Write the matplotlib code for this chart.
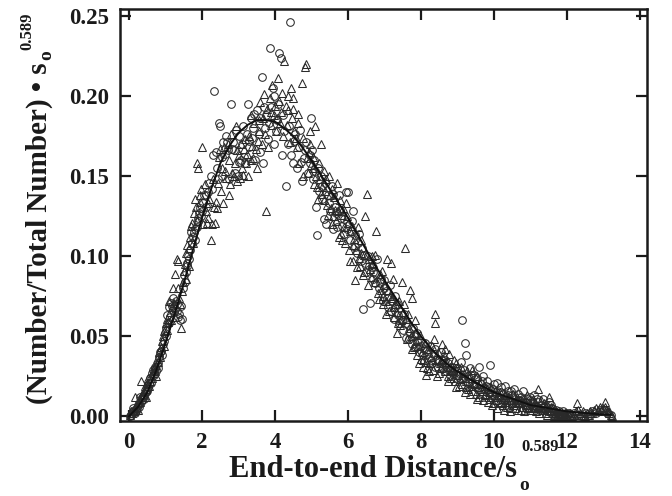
import matplotlib
matplotlib.use("Agg")
import matplotlib.pyplot as plt

# ---- data ----
circle_pts = [
    (0.02, 0.000), (0.05, 0.001), (0.08, 0.002), (0.12, 0.003), (0.15, 0.002), (0.18, 0.004),
    (0.22, 0.005), (0.25, 0.007), (0.28, 0.006), (0.32, 0.009), (0.35, 0.010), (0.38, 0.012),
    (0.42, 0.013), (0.45, 0.015), (0.48, 0.017), (0.52, 0.018), (0.55, 0.020), (0.58, 0.024),
    (0.62, 0.027), (0.65, 0.029), (0.68, 0.026), (0.72, 0.030), (0.75, 0.028), (0.78, 0.033),
    (0.82, 0.037), (0.85, 0.040), (0.88, 0.041), (0.92, 0.045), (0.95, 0.047), (0.98, 0.052),
    (1.02, 0.055), (1.05, 0.063), (1.08, 0.068), (1.12, 0.062), (1.15, 0.071), (1.18, 0.069),
    (1.22, 0.065), (1.25, 0.067), (1.28, 0.072), (1.32, 0.066), (1.35, 0.062), (1.38, 0.064),
    (1.42, 0.069), (1.45, 0.061), (1.48, 0.080), (1.52, 0.084), (1.55, 0.090), (1.58, 0.094),
    (1.62, 0.100), (1.65, 0.098), (1.68, 0.104), (1.72, 0.108), (1.75, 0.112), (1.78, 0.115),
    (1.82, 0.110), (1.85, 0.118), (1.88, 0.122), (1.92, 0.127), (1.95, 0.130), (1.98, 0.125),
    (2.02, 0.133), (2.05, 0.138), (2.10, 0.131), (2.15, 0.140), (2.20, 0.146), (2.25, 0.150),
    (2.30, 0.163), (2.34, 0.203), (2.38, 0.165), (2.42, 0.155), (2.46, 0.183), (2.50, 0.181),
    (2.54, 0.150), (2.58, 0.171), (2.62, 0.164), (2.66, 0.175), (2.70, 0.166), (2.74, 0.148),
    (2.78, 0.195), (2.82, 0.167), (2.86, 0.171), (2.90, 0.152), (2.94, 0.179), (2.98, 0.150),
    (3.02, 0.159), (3.06, 0.160), (3.10, 0.170), (3.14, 0.162), (3.18, 0.158), (3.22, 0.176),
    (3.26, 0.195), (3.30, 0.168), (3.34, 0.186), (3.38, 0.174), (3.42, 0.189), (3.46, 0.160),
    (3.50, 0.191), (3.55, 0.176), (3.60, 0.186), (3.63, 0.212), (3.68, 0.158), (3.72, 0.180),
    (3.76, 0.188), (3.80, 0.173), (3.86, 0.230), (3.90, 0.193), (3.94, 0.205), (3.98, 0.170),
    (4.02, 0.178), (4.06, 0.185), (4.12, 0.227), (4.16, 0.224), (4.20, 0.163), (4.25, 0.178),
    (4.30, 0.144), (4.35, 0.170), (4.41, 0.246), (4.45, 0.163), (4.50, 0.158), (4.55, 0.176),
    (4.60, 0.155), (4.65, 0.168), (4.70, 0.159), (4.75, 0.147), (4.80, 0.161), (4.85, 0.171),
    (4.90, 0.152), (4.95, 0.163), (5.00, 0.186),
    (5.05, 0.148), (5.10, 0.153), (5.12, 0.131), (5.15, 0.113), (5.20, 0.141), (5.25, 0.150),
    (5.30, 0.136), (5.35, 0.123), (5.40, 0.120), (5.45, 0.138), (5.50, 0.128), (5.55, 0.144),
    (5.60, 0.117), (5.65, 0.131), (5.70, 0.118), (5.75, 0.138), (5.80, 0.124), (5.85, 0.119),
    (5.90, 0.114), (5.95, 0.140), (6.00, 0.140),
    (6.05, 0.110), (6.10, 0.122), (6.15, 0.128), (6.20, 0.106), (6.25, 0.102), (6.30, 0.114),
    (6.35, 0.097), (6.41, 0.067), (6.45, 0.101), (6.50, 0.090), (6.55, 0.100), (6.61, 0.071),
    (6.65, 0.093), (6.70, 0.090), (6.75, 0.083), (6.80, 0.098), (6.85, 0.080), (6.90, 0.086),
    (6.95, 0.072), (7.00, 0.080),
    (7.05, 0.078), (7.10, 0.068), (7.15, 0.082), (7.20, 0.072), (7.25, 0.061), (7.30, 0.068),
    (7.35, 0.070), (7.40, 0.058), (7.45, 0.063), (7.50, 0.054), (7.55, 0.064), (7.60, 0.049),
    (7.65, 0.057), (7.70, 0.052), (7.75, 0.045), (7.80, 0.050), (7.85, 0.043), (7.90, 0.047),
    (7.95, 0.040), (8.00, 0.044),
    (8.05, 0.038), (8.10, 0.046), (8.15, 0.041), (8.20, 0.036), (8.25, 0.044), (8.30, 0.033),
    (8.35, 0.039), (8.40, 0.031), (8.45, 0.036), (8.50, 0.034), (8.55, 0.040), (8.60, 0.030),
    (8.65, 0.035), (8.70, 0.028), (8.75, 0.033), (8.80, 0.026), (8.85, 0.031), (8.90, 0.029),
    (8.95, 0.024), (9.00, 0.030),
    (9.05, 0.027), (9.10, 0.034), (9.14, 0.060), (9.20, 0.046), (9.25, 0.038), (9.30, 0.025),
    (9.35, 0.030), (9.40, 0.021), (9.45, 0.026), (9.50, 0.019), (9.55, 0.024), (9.60, 0.031),
    (9.65, 0.020), (9.70, 0.025), (9.75, 0.017), (9.80, 0.022), (9.85, 0.018), (9.90, 0.032),
    (9.95, 0.014), (10.00, 0.020),
    (10.05, 0.015), (10.10, 0.021), (10.15, 0.012), (10.20, 0.018), (10.25, 0.014), (10.30, 0.019),
    (10.35, 0.011), (10.40, 0.016), (10.45, 0.010), (10.50, 0.013), (10.55, 0.017), (10.60, 0.009),
    (10.65, 0.014), (10.70, 0.008), (10.75, 0.012), (10.80, 0.016), (10.85, 0.007), (10.90, 0.011),
    (10.95, 0.006), (11.00, 0.010),
    (11.05, 0.008), (11.10, 0.013), (11.15, 0.006), (11.20, 0.009), (11.25, 0.005), (11.30, 0.007),
    (11.35, 0.011), (11.40, 0.004), (11.45, 0.006), (11.50, 0.009), (11.55, 0.003), (11.60, 0.005),
    (11.65, 0.002), (11.70, 0.004), (11.75, 0.001), (11.80, 0.002), (11.85, 0.001), (11.90, 0.003),
    (11.95, 0.000), (12.00, 0.001),
    (12.05, 0.002), (12.10, 0.000), (12.15, 0.001), (12.20, 0.002), (12.30, 0.001), (12.40, 0.000),
    (12.50, 0.002), (12.60, 0.001), (12.70, 0.003), (12.80, 0.002), (12.90, 0.004), (13.00, 0.003),
    (13.10, 0.002), (13.20, 0.001),
]

# second run of circles (overlapping the first)
circle_pts_2 = [
    (0.10, 0.005), (0.20, 0.003), (0.30, 0.012), (0.40, 0.011), (0.50, 0.016), (0.60, 0.021),
    (0.70, 0.031), (0.80, 0.030), (0.90, 0.038), (1.00, 0.050), (1.10, 0.058), (1.20, 0.074),
    (1.30, 0.070), (1.40, 0.060), (1.50, 0.088), (1.60, 0.096), (1.70, 0.115), (1.80, 0.117),
    (1.90, 0.124), (2.00, 0.128),
    (2.12, 0.138), (2.28, 0.142), (2.44, 0.148), (2.56, 0.162), (2.68, 0.171), (2.88, 0.166),
    (3.00, 0.175), (3.12, 0.181), (3.28, 0.172), (3.40, 0.180), (3.58, 0.165), (3.70, 0.193),
    (3.84, 0.183), (3.96, 0.200), (4.08, 0.195), (4.22, 0.188), (4.38, 0.181), (4.52, 0.172),
    (4.68, 0.179), (4.82, 0.166), (4.96, 0.158),
    (5.02, 0.166), (5.08, 0.160), (5.18, 0.155), (5.28, 0.144), (5.38, 0.146), (5.48, 0.133),
    (5.58, 0.139), (5.68, 0.127), (5.78, 0.129), (5.88, 0.123), (5.98, 0.117), (6.08, 0.116),
    (6.18, 0.113), (6.28, 0.108), (6.38, 0.105), (6.48, 0.096), (6.58, 0.094), (6.68, 0.086),
    (6.78, 0.089), (6.88, 0.083), (6.98, 0.085), (7.08, 0.074), (7.18, 0.066), (7.28, 0.075),
    (7.38, 0.063), (7.48, 0.060), (7.58, 0.058), (7.68, 0.048), (7.78, 0.055), (7.88, 0.052),
    (7.98, 0.047),
    (8.08, 0.042), (8.18, 0.039), (8.28, 0.035), (8.38, 0.042), (8.48, 0.031), (8.58, 0.033),
    (8.68, 0.031), (8.78, 0.029), (8.88, 0.027), (8.98, 0.026), (9.08, 0.024), (9.18, 0.029),
    (9.28, 0.021), (9.38, 0.026), (9.48, 0.023), (9.58, 0.017), (9.68, 0.022), (9.78, 0.019),
    (9.88, 0.015), (9.98, 0.017), (10.08, 0.013), (10.18, 0.015), (10.28, 0.010), (10.38, 0.013),
    (10.48, 0.016), (10.58, 0.011), (10.68, 0.010), (10.78, 0.008), (10.88, 0.009), (10.98, 0.012),
    (11.08, 0.006), (11.18, 0.011), (11.28, 0.004), (11.38, 0.006), (11.48, 0.003), (11.58, 0.007),
    (11.68, 0.001), (11.78, 0.003), (11.88, 0.000), (11.98, 0.002),
]

triangle_pts = [
    (0.03, 0.001), (0.07, 0.002), (0.10, 0.004), (0.13, 0.003), (0.17, 0.012), (0.20, 0.006),
    (0.23, 0.008), (0.27, 0.011), (0.30, 0.009), (0.33, 0.022), (0.37, 0.013), (0.40, 0.016),
    (0.43, 0.019), (0.47, 0.017), (0.50, 0.021), (0.53, 0.024), (0.57, 0.022), (0.60, 0.026),
    (0.63, 0.024), (0.67, 0.030), (0.70, 0.028), (0.73, 0.032), (0.77, 0.036), (0.80, 0.034),
    (0.83, 0.040), (0.87, 0.043), (0.90, 0.047), (0.93, 0.050), (0.97, 0.053), (1.00, 0.058),
    (1.03, 0.061), (1.07, 0.059), (1.10, 0.072), (1.13, 0.065), (1.17, 0.068), (1.20, 0.080),
    (1.23, 0.071), (1.27, 0.089), (1.30, 0.098), (1.33, 0.097), (1.37, 0.074), (1.40, 0.070),
    (1.43, 0.055), (1.47, 0.084), (1.50, 0.091), (1.53, 0.095), (1.57, 0.102), (1.60, 0.107),
    (1.63, 0.105), (1.67, 0.112), (1.70, 0.119), (1.73, 0.121), (1.77, 0.127), (1.80, 0.136),
    (1.83, 0.131), (1.87, 0.158), (1.90, 0.155), (1.93, 0.138), (1.97, 0.142), (2.00, 0.168),
    (2.03, 0.120), (2.07, 0.145), (2.10, 0.128), (2.13, 0.121), (2.17, 0.133), (2.20, 0.136),
    (2.24, 0.110), (2.27, 0.120), (2.30, 0.148), (2.33, 0.131), (2.37, 0.134), (2.40, 0.130),
    (2.43, 0.146), (2.47, 0.162), (2.50, 0.167), (2.53, 0.141), (2.57, 0.133), (2.60, 0.168),
    (2.63, 0.153), (2.67, 0.149), (2.70, 0.170), (2.73, 0.138), (2.77, 0.145), (2.80, 0.176),
    (2.83, 0.152), (2.87, 0.150), (2.90, 0.158), (2.93, 0.181), (2.97, 0.147), (3.00, 0.163),
    (3.03, 0.149), (3.07, 0.170), (3.10, 0.155), (3.13, 0.151), (3.17, 0.173), (3.20, 0.158),
    (3.23, 0.164), (3.27, 0.150), (3.30, 0.175), (3.33, 0.188), (3.37, 0.169), (3.40, 0.161),
    (3.43, 0.183), (3.47, 0.167), (3.50, 0.155), (3.53, 0.172), (3.57, 0.178), (3.60, 0.196),
    (3.63, 0.170), (3.67, 0.186), (3.70, 0.201), (3.75, 0.128), (3.78, 0.192), (3.82, 0.168),
    (3.86, 0.199), (3.90, 0.182), (3.93, 0.207), (3.97, 0.188), (4.00, 0.194),
    (4.03, 0.178), (4.07, 0.211), (4.10, 0.197), (4.13, 0.183), (4.17, 0.190), (4.20, 0.202),
    (4.26, 0.222), (4.30, 0.194), (4.33, 0.182), (4.37, 0.200), (4.40, 0.171), (4.43, 0.205),
    (4.47, 0.186), (4.50, 0.192), (4.53, 0.178), (4.57, 0.174), (4.60, 0.168), (4.63, 0.183),
    (4.67, 0.158), (4.73, 0.208), (4.77, 0.150), (4.81, 0.218), (4.84, 0.220), (4.87, 0.161),
    (4.90, 0.152), (4.93, 0.165), (4.97, 0.170), (5.00, 0.157),
    (5.03, 0.162), (5.07, 0.145), (5.11, 0.181), (5.13, 0.150), (5.17, 0.136), (5.20, 0.158),
    (5.23, 0.148), (5.27, 0.170), (5.30, 0.143), (5.33, 0.153), (5.37, 0.141), (5.40, 0.148),
    (5.43, 0.132), (5.47, 0.150), (5.50, 0.138), (5.53, 0.130), (5.57, 0.142), (5.60, 0.125),
    (5.63, 0.137), (5.67, 0.122), (5.70, 0.146), (5.73, 0.128), (5.77, 0.135), (5.80, 0.114),
    (5.83, 0.126), (5.87, 0.130), (5.90, 0.118), (5.93, 0.108), (5.97, 0.125), (6.00, 0.121),
    (6.03, 0.104), (6.07, 0.116), (6.10, 0.119), (6.13, 0.097), (6.17, 0.111), (6.20, 0.085),
    (6.23, 0.104), (6.27, 0.118), (6.30, 0.099), (6.33, 0.094), (6.37, 0.110), (6.40, 0.088),
    (6.43, 0.101), (6.47, 0.125), (6.52, 0.139), (6.57, 0.098), (6.60, 0.092), (6.63, 0.087),
    (6.67, 0.100), (6.70, 0.096), (6.73, 0.084), (6.78, 0.116), (6.82, 0.077), (6.87, 0.089),
    (6.90, 0.079), (6.93, 0.091), (6.97, 0.075), (7.00, 0.082),
    (7.03, 0.072), (7.07, 0.098), (7.10, 0.079), (7.13, 0.066), (7.17, 0.096), (7.20, 0.074),
    (7.23, 0.086), (7.27, 0.062), (7.30, 0.070), (7.33, 0.065), (7.37, 0.058), (7.40, 0.072),
    (7.43, 0.057), (7.47, 0.084), (7.50, 0.065), (7.56, 0.105), (7.60, 0.061), (7.63, 0.048),
    (7.67, 0.055), (7.70, 0.079), (7.73, 0.050), (7.77, 0.074), (7.80, 0.043), (7.83, 0.052),
    (7.87, 0.047), (7.90, 0.038), (7.93, 0.044), (7.97, 0.051), (8.00, 0.036),
    (8.03, 0.040), (8.07, 0.031), (8.10, 0.046), (8.13, 0.034), (8.17, 0.030), (8.20, 0.042),
    (8.23, 0.028), (8.27, 0.037), (8.30, 0.044), (8.33, 0.029), (8.38, 0.058), (8.40, 0.064),
    (8.43, 0.035), (8.47, 0.040), (8.50, 0.027), (8.53, 0.033), (8.57, 0.045), (8.60, 0.036),
    (8.63, 0.038), (8.67, 0.028), (8.70, 0.034), (8.73, 0.025), (8.77, 0.039), (8.80, 0.031),
    (8.83, 0.024), (8.87, 0.029), (8.90, 0.035), (8.93, 0.022), (8.97, 0.018), (9.00, 0.030),
    (9.03, 0.026), (9.07, 0.023), (9.10, 0.031), (9.13, 0.020), (9.17, 0.027), (9.20, 0.015),
    (9.23, 0.022), (9.27, 0.028), (9.30, 0.017), (9.33, 0.024), (9.37, 0.019), (9.40, 0.029),
    (9.43, 0.016), (9.47, 0.021), (9.50, 0.014), (9.53, 0.025), (9.57, 0.018), (9.60, 0.012),
    (9.63, 0.020), (9.67, 0.016), (9.70, 0.010), (9.73, 0.019), (9.77, 0.013), (9.80, 0.017),
    (9.83, 0.009), (9.87, 0.015), (9.90, 0.011), (9.93, 0.018), (9.97, 0.008), (10.00, 0.013),
    (10.03, 0.016), (10.07, 0.010), (10.10, 0.005), (10.13, 0.012), (10.17, 0.015), (10.20, 0.008),
    (10.23, 0.011), (10.27, 0.004), (10.30, 0.013), (10.33, 0.009), (10.37, 0.006), (10.40, 0.012),
    (10.43, 0.003), (10.47, 0.010), (10.50, 0.008), (10.53, 0.014), (10.57, 0.005), (10.60, 0.009),
    (10.63, 0.012), (10.67, 0.004), (10.70, 0.008), (10.73, 0.010), (10.77, 0.006), (10.80, 0.011),
    (10.83, 0.003), (10.87, 0.007), (10.90, 0.013), (10.93, 0.005), (10.97, 0.009), (11.00, 0.004),
    (11.03, 0.007), (11.07, 0.011), (11.10, 0.005), (11.13, 0.009), (11.17, 0.003), (11.22, 0.017),
    (11.25, 0.006), (11.30, 0.010), (11.33, 0.004), (11.37, 0.008), (11.40, 0.005), (11.43, 0.002),
    (11.47, 0.007), (11.50, 0.012), (11.53, 0.004), (11.57, 0.006), (11.60, 0.002), (11.63, 0.005),
    (11.67, 0.001), (11.70, 0.003), (11.73, 0.000), (11.77, 0.002), (11.80, 0.001), (11.83, 0.000),
    (11.87, 0.002), (11.90, 0.001), (11.93, 0.000), (11.97, 0.001), (12.00, 0.000),
    (12.05, 0.001), (12.10, 0.002), (12.15, 0.000), (12.20, 0.001), (12.27, 0.008), (12.30, 0.004),
    (12.35, 0.002), (12.40, 0.001), (12.45, 0.003), (12.50, 0.000), (12.55, 0.002), (12.60, 0.001),
    (12.65, 0.003), (12.70, 0.002), (12.75, 0.004), (12.80, 0.005), (12.85, 0.003), (12.90, 0.006),
    (12.95, 0.004), (13.00, 0.005), (13.04, 0.009), (13.08, 0.004), (13.12, 0.003), (13.16, 0.002),
    (13.20, 0.001), (13.24, 0.000),
]

# second run of triangles (overlapping the first)
triangle_pts_2 = [
    (0.05, 0.003), (0.15, 0.005), (0.25, 0.004), (0.35, 0.014), (0.45, 0.012), (0.55, 0.019),
    (0.65, 0.027), (0.75, 0.025), (0.85, 0.037), (0.95, 0.044), (1.05, 0.054), (1.15, 0.060),
    (1.25, 0.062), (1.35, 0.080), (1.45, 0.078), (1.55, 0.086), (1.65, 0.094), (1.75, 0.108),
    (1.85, 0.122), (1.95, 0.134),
    (2.15, 0.124), (2.35, 0.121), (2.55, 0.155), (2.75, 0.160), (2.95, 0.166), (3.15, 0.167),
    (3.35, 0.160), (3.55, 0.185), (3.72, 0.176), (3.88, 0.190), (4.05, 0.186), (4.22, 0.175),
    (4.35, 0.191), (4.48, 0.199), (4.62, 0.189), (4.78, 0.174), (4.95, 0.178),
    (5.05, 0.155), (5.15, 0.143), (5.25, 0.139), (5.35, 0.135), (5.45, 0.126), (5.55, 0.120),
    (5.65, 0.129), (5.75, 0.112), (5.85, 0.110), (5.95, 0.133), (6.05, 0.097), (6.15, 0.107),
    (6.25, 0.093), (6.35, 0.102), (6.45, 0.090), (6.55, 0.082), (6.65, 0.095), (6.75, 0.101),
    (6.85, 0.073), (6.95, 0.070), (7.05, 0.064), (7.15, 0.075), (7.25, 0.068), (7.35, 0.052),
    (7.45, 0.060), (7.55, 0.070), (7.65, 0.064), (7.75, 0.042), (7.85, 0.060), (7.95, 0.033),
    (8.05, 0.035), (8.15, 0.026), (8.25, 0.033), (8.35, 0.048), (8.45, 0.025), (8.55, 0.030),
    (8.65, 0.042), (8.75, 0.022), (8.85, 0.028), (8.95, 0.033), (9.05, 0.019), (9.15, 0.024),
    (9.25, 0.018), (9.35, 0.014), (9.45, 0.020), (9.55, 0.011), (9.65, 0.017), (9.75, 0.014),
    (9.85, 0.012), (9.95, 0.007), (10.05, 0.012), (10.15, 0.009), (10.25, 0.007), (10.35, 0.010),
    (10.45, 0.005), (10.55, 0.007), (10.65, 0.010), (10.75, 0.004), (10.85, 0.009), (10.95, 0.006),
    (11.05, 0.004), (11.15, 0.007), (11.25, 0.002), (11.35, 0.004), (11.45, 0.001), (11.55, 0.003),
    (11.65, 0.000), (11.75, 0.001), (11.85, 0.000), (11.95, 0.002), (12.25, 0.003), (12.45, 0.001),
    (12.65, 0.002), (12.85, 0.004), (13.05, 0.006), (13.15, 0.003),
]

# fitted curve
curve_x = [0.0, 0.25, 0.5, 0.75, 1.0, 1.25, 1.5, 1.75, 2.0, 2.25, 2.5, 2.75, 3.0, 3.25, 3.5,
           3.75, 4.0, 4.25, 4.5, 4.75, 5.0, 5.25, 5.5, 5.75, 6.0, 6.25, 6.5, 6.75, 7.0, 7.25,
           7.5, 7.75, 8.0, 8.25, 8.5, 8.75, 9.0, 9.5, 10.0, 10.5, 11.0, 11.5, 12.0, 12.5, 13.0, 13.2]
curve_y = [0.000, 0.006, 0.015, 0.029, 0.046, 0.064, 0.083, 0.104, 0.124, 0.142, 0.158, 0.169,
           0.177, 0.182, 0.185, 0.185, 0.184, 0.180, 0.175, 0.168, 0.160, 0.151, 0.142, 0.133,
           0.124, 0.114, 0.104, 0.094, 0.085, 0.076, 0.067, 0.058, 0.050, 0.043, 0.037, 0.032,
           0.028, 0.021, 0.015, 0.011, 0.007, 0.005, 0.003, 0.002, 0.001, 0.001]

xticks = [0, 2, 4, 6, 8, 10, 12, 14]
yticks = [0.00, 0.05, 0.10, 0.15, 0.20, 0.25]

FONT = "Liberation Serif"
W, H = 672, 496

fig = plt.figure(figsize=(W / 100, H / 100), dpi=100)
ax = fig.add_axes([120 / W, 1 - 421 / H, (647 - 120) / W, (421 - 9) / H])

cx, cy = zip(*(circle_pts + circle_pts_2))
tx, ty = zip(*(triangle_pts + triangle_pts_2))
ax.plot(cx, cy, 'o', ms=5.5, mfc='none', mec='#2a2a2a', mew=0.75, zorder=2)
ax.plot(tx, ty, '^', ms=6, mfc='none', mec='#2a2a2a', mew=0.75, zorder=2)
ax.plot(curve_x, curve_y, '-', color='#111111', lw=1.4, zorder=3)

ax.set_xlim(-0.25, 14.2)
ax.set_ylim(-0.003, 0.2544)
ax.set_xticks(xticks)
ax.set_yticks(yticks)
ax.set_xticklabels([str(t) for t in xticks])
ax.set_yticklabels(['%.2f' % t for t in yticks])
ax.tick_params(direction='in', length=8, width=1.6, top=True, right=True, pad=8,
               labelsize=16.5, colors='#1a1a1a')
for lab in ax.get_xticklabels() + ax.get_yticklabels():
    lab.set_fontfamily(FONT)
    lab.set_fontweight('bold')
for s in ax.spines.values():
    s.set_linewidth(1.8)
    s.set_color('#1a1a1a')

# axis titles built from pieces so the sub/superscripts sit like the original
tk = dict(family=FONT, weight='bold', color='#1a1a1a')
fig.text(517 / W, 1 - 477 / H, "End-to-end Distance/s", ha='right', va='baseline', fontsize=22, **tk)
fig.text(519 / W, 1 - 486 / H, "o", ha='left', va='center', fontsize=14, **tk)
fig.text(521 / W, 1 - 447 / H, "0.589", ha='left', va='center', fontsize=12, **tk)

fig.text(47 / W, 1 - 62 / H, "(Number/Total Number) \u2022 s", rotation=90,
         rotation_mode='anchor', ha='right', va='baseline', fontsize=21, **tk)
fig.text(47 / W, 1 - 55 / H, "o", rotation=90, rotation_mode='anchor',
         ha='center', va='center', fontsize=14, **tk)
fig.text(27 / W, 1 - 50 / H, "0.589", rotation=90, rotation_mode='anchor',
         ha='left', va='center', fontsize=12, **tk)

fig.savefig("out.png", dpi=100)
